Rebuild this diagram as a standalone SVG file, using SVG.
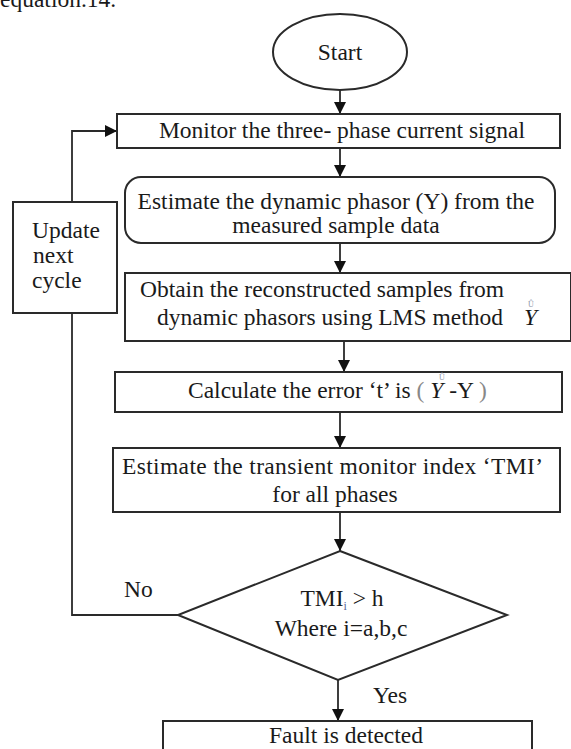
<svg xmlns="http://www.w3.org/2000/svg" width="571" height="749" viewBox="0 0 571 749">
<style>
text{font-family:"Liberation Serif","Times New Roman",serif;font-size:23.5px;fill:#1a1a1a}
.box{fill:#fff;stroke:#2a2a2a;stroke-width:2}
.ln{fill:none;stroke:#2a2a2a;stroke-width:1.8}
.mark{font-size:8px;fill:#8a94a8}
.grey{fill:#888}
</style>
<defs>
<marker id="ah" markerUnits="userSpaceOnUse" markerWidth="12" markerHeight="12" refX="12" refY="6" orient="auto">
<path d="M0,0 L12,6 L0,12 z" fill="#111"/>
</marker>
</defs>
<rect width="571" height="749" fill="#fff"/>
<text x="0" y="7">equation.14.</text>
<g id="connectors">
<line class="ln" x1="340" y1="90" x2="340" y2="114" marker-end="url(#ah)"/>
<line class="ln" x1="340" y1="148" x2="340" y2="177" marker-end="url(#ah)"/>
<line class="ln" x1="340" y1="243" x2="340" y2="273" marker-end="url(#ah)"/>
<line class="ln" x1="344" y1="341" x2="344" y2="372" marker-end="url(#ah)"/>
<line class="ln" x1="340" y1="412" x2="340" y2="448" marker-end="url(#ah)"/>
<line class="ln" x1="340" y1="512" x2="340" y2="551" marker-end="url(#ah)"/>
<line class="ln" x1="338" y1="680" x2="338" y2="721" marker-end="url(#ah)"/>
<polyline class="ln" points="178,615 72,615 72,131 117,131" marker-end="url(#ah)"/>
<text x="124" y="597">No</text>
<text x="373" y="703">Yes</text>
</g>
<g id="start">
<ellipse class="box" cx="340" cy="52" rx="67" ry="38"/>
<text x="340" y="60" text-anchor="middle">Start</text>
</g>
<g id="monitor">
<rect class="box" x="117" y="114" width="443" height="34"/>
<text x="342" y="138" text-anchor="middle">Monitor the three- phase current signal</text>
</g>
<g id="update">
<rect class="box" x="13" y="202" width="104" height="111"/>
<text x="32" y="238">Update</text>
<text x="33" y="263">next</text>
<text x="32" y="288">cycle</text>
</g>
<g id="estimate-phasor">
<rect class="box" x="125" y="177" width="430" height="66" rx="16"/>
<text x="336" y="209" text-anchor="middle">Estimate the dynamic phasor (Y) from the</text>
<text x="336" y="233" text-anchor="middle">measured sample data</text>
</g>
<g id="obtain">
<rect class="box" x="125" y="273" width="446" height="68"/>
<text x="322" y="297" text-anchor="middle">Obtain the reconstructed  samples from</text>
<text x="157" y="325">dynamic phasors using LMS method</text>
<text x="524" y="325" font-style="italic" font-size="15">Y</text>
<text class="mark" x="528" y="307">Û</text>
</g>
<g id="calculate">
<rect class="box" x="115" y="372" width="447" height="40"/>
<text x="188" y="398">Calculate the error ‘t’ is <tspan class="grey">(</tspan><tspan font-style="italic"> Y</tspan> -Y <tspan class="grey">)</tspan></text>
<text class="mark" x="439" y="380">Û</text>
</g>
<g id="tmi">
<rect class="box" x="113" y="448" width="447" height="64"/>
<text x="122" y="474" textLength="421">Estimate the  transient monitor index  ‘TMI’</text>
<text x="335" y="502" text-anchor="middle">for all phases</text>
</g>
<g id="decision">
<polygon class="box" points="340,551 507,615 338,680 178,615"/>
<text x="342" y="606" text-anchor="middle">TMI<tspan font-size="12" dy="4" fill="#5a6a9a">i</tspan><tspan dy="-4"> &gt; h</tspan></text>
<text x="341" y="636" text-anchor="middle">Where i=a,b,c</text>
</g>
<g id="fault">
<rect class="box" x="163" y="721" width="369" height="40"/>
<text x="346" y="743" text-anchor="middle">Fault is detected</text>
</g>
</svg>
